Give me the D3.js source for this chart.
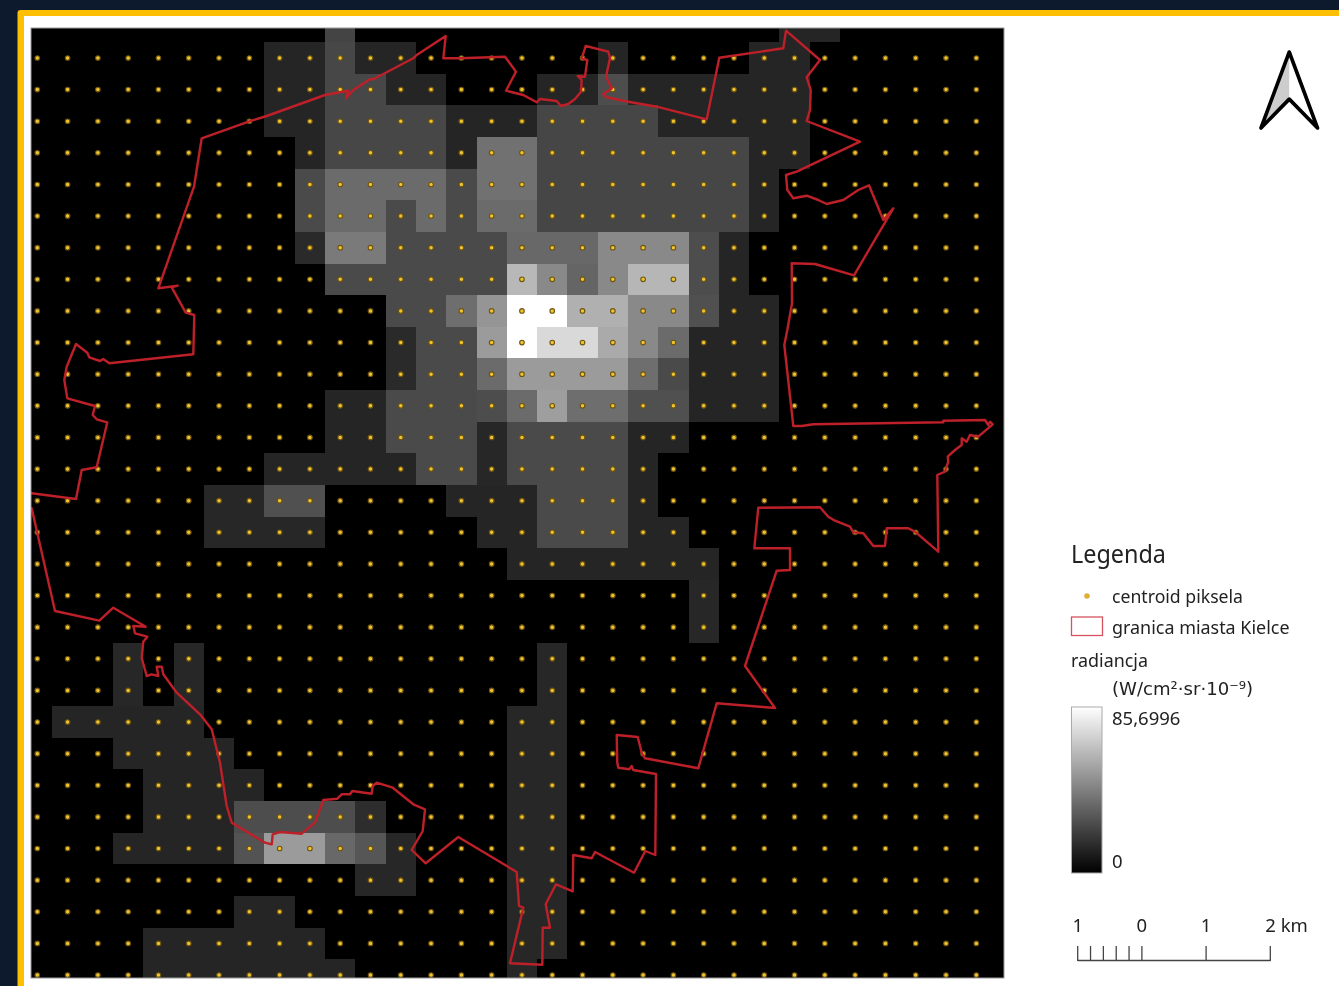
<!DOCTYPE html>
<html>
<head>
<meta charset="utf-8">
<style>
html,body{margin:0;padding:0;background:#0d1a2e;overflow:hidden}
svg{display:block;filter:blur(0.55px)}
text{font-family:"Noto Sans","Open Sans",sans-serif;fill:#222}
</style>
<script src="https://cdn.jsdelivr.net/npm/d3@7"></script>
</head>
<body>
<svg id="c" width="1339" height="986"></svg>
<script>
// Pixel grid indices
const gridCols = d3.range(0, 32);
const gridRows = d3.range(0, 30);
const radianceMax = 85.6996;
// Radiance raster: [row, first column, last column, radiance]
const radianceRuns = [
[-1,10,10,23],[-1,25,26,12.5],
[0,8,9,12.5],[0,10,10,24],[0,11,12,12.5],[0,19,19,12.5],[0,24,25,12.5],
[1,8,9,12.5],[1,10,11,24],[1,12,13,12.5],[1,17,18,12.5],[1,19,19,26],[1,20,25,12.5],
[2,8,9,12.5],[2,10,13,24],[2,14,16,12.5],[2,17,20,23.5],[2,21,25,12.5],
[3,9,9,12.5],[3,10,13,24],[3,14,14,12.5],[3,15,16,38],[3,17,23,23.5],[3,24,25,12.5],
[4,9,9,25],[4,10,13,36],[4,14,14,25],[4,15,16,38],[4,17,23,23.5],[4,24,24,12.5],
[5,9,9,25],[5,10,11,36],[5,12,12,25],[5,13,13,36],[5,14,14,25],[5,15,16,36],[5,17,23,23.5],[5,24,24,12.5],
[6,9,9,14],[6,10,11,41],[6,12,15,25],[6,16,18,35],[6,19,21,46],[6,22,22,26],[6,23,23,12.5],
[7,10,15,25],[7,16,16,62],[7,17,17,46],[7,18,18,34],[7,19,19,46],[7,20,21,61],[7,22,22,26],[7,23,23,12.5],
[8,12,13,25],[8,14,14,37],[8,15,15,50],[8,16,17,85.7],[8,18,19,59],[8,20,21,46],[8,22,22,27],[8,23,24,12.5],
[9,12,12,14],[9,13,14,25],[9,15,15,52],[9,16,16,85.7],[9,17,18,73],[9,19,19,57],[9,20,20,46],[9,21,21,36],[9,22,24,12.5],
[10,12,12,14],[10,13,14,25],[10,15,15,36],[10,16,19,52],[10,20,20,37],[10,21,21,25],[10,22,24,12.5],
[11,10,11,12.5],[11,12,14,25],[11,15,15,26],[11,16,16,36],[11,17,17,53],[11,18,19,37],[11,20,21,27],[11,22,24,12.5],
[12,10,11,12.5],[12,12,14,25],[12,15,15,13],[12,16,19,25],[12,20,21,12.5],
[13,8,12,12.5],[13,13,14,25],[13,15,15,13],[13,16,19,25],[13,20,20,12.5],
[14,6,7,13],[14,8,9,27],[14,14,16,12.5],[14,17,19,25],[14,20,20,12.5],
[15,6,9,13],[15,15,16,12.5],[15,17,19,25],[15,20,21,12.5],
[16,16,22,12.5],[17,22,22,13],[18,22,22,13],
[19,3,3,13],[19,5,5,13],[19,17,17,13],
[20,3,3,13],[20,5,5,13],[20,17,17,13],
[21,1,5,12.5],[21,16,17,13],
[22,3,6,12.5],[22,16,17,13],
[23,4,7,12.5],[23,16,17,13],
[24,4,6,12.5],[24,7,10,26],[24,11,11,15],[24,16,17,13],
[25,3,6,12.5],[25,7,7,28],[25,8,9,52],[25,10,10,35],[25,11,11,29],[25,12,12,13],[25,16,17,13],
[26,11,12,13],[26,16,17,13],
[27,7,8,12.5],[27,16,17,13],
[28,4,9,12.5],[28,16,17,13],
[29,4,10,12.5],[29,16,16,13]
];
// City boundary vertices in map sheet units
const boundary = [
[201.7,138.3],[249.3,121.3],[266.7,116],[325,95],[348.3,90.7],[346,98.3],[353.3,90],[370,79.3],[373.3,79.3],[383.3,74],[413.3,58.3],[416.7,55],[445.7,36],[443.3,58.3],[460,58.3],[505,56.7],[516,71.7],[506,90.7],
[523.3,95],[536.7,102.3],[540,99],[556.7,101],[561,106],[568.3,104],[575,99],[581,91.7],[581.7,80],[577.7,76],[585,76.7],[587.3,60],[581.7,58.3],[585.7,46],[608.3,51.7],[610,58.3],[606,76.7],[611.7,88.3],[603.3,94],[606.7,97.3],[628.3,101.7],[656.7,106.7],[706.7,119.3],[719.3,57.7],[783.3,48.3],[786,30.7],[820,60],[806.7,77.3],[810.7,90],[810,110],[806.7,121],[860,141.7],[796.7,171.7],[786,175],[787.3,190],[793.3,198.3],[806.7,195.7],[818.3,200],[826.7,204],[843.3,200],[858.3,190],[869,185.3],[883.3,220],[893.3,208.3],[854,275.3],[815,264],[791.7,263.3],[792,303.3],[787.3,330],
[784.3,345],[793.3,426],[801.7,426],[813.3,424.3],[943.3,422.3],[943.3,420.7],[985,420],[988.3,425],[990,421.7],[992.7,424.3],[978.3,436.7],[970,435],[966.7,441.7],[961.7,438.3],[961.7,445],[955,450],[947.7,456.7],[948.3,461.7],[945,471.7],[937.3,475],[938.3,551.7],[915,531.7],[908.3,528.3],[886.7,528.3],[885,546],[873.3,546],[863.3,533.3],[853.3,532.3],[850,526.7],[835,520.7],[828.3,516.7],[820,507.3],[758.3,507.7],[754.3,548.3],[790,548.3],[790,570],[776.7,570.7],[748.3,656],
[745,666],[775,708],[716.7,703.3],[698.3,768.3],[645,758.3],[641.7,752.7],[637.7,737],[616.7,735],[617.3,762.7],[618.3,767.7],[629.3,769.3],[631.7,766],[633.3,770],[656,774],[655.3,855],[645.3,851],[634,872.7],[595,852],[591.7,858.3],[573.3,855],[572.7,891.3],[556,884.3],[545.7,904.3],[550,927.7],[542.7,927.7],[542.3,964.7],[510,963.3],[523.3,907.7],[519,906],[516.7,872],
[458.3,837],[425.7,863.3],[411.7,850],[422.7,831],[425,809.3],[413.3,804.3],[392.7,787.7],[376.7,782.7],[372.7,786],[371.7,793.7],[352.3,791],[350,794.3],[341.7,794.3],[337.3,798.7],[323.3,800],[315,822.7],[301.7,833.7],[280,832],[272.7,834.3],[271.7,844.3],[265,842.7],[231.7,822.7],[226.7,806],[220,762.7],[211.7,729.3],[200,714.3],[176.7,692.7],[163.3,674.3],[161.7,666.7],[156.7,666.7],[158.3,676],[151.7,674.3],[146.7,676],[141.7,658],
[143.3,641.7],[147.3,636.7],[135,633.3],[133.3,626],[145.7,626.7],[113.3,607.7],[99.3,620.7],[55,611],[31.7,508.3],[20,505],[20,492],[31.7,493.3],[76,499],[81.7,470],[96.7,467.3],[107.3,422.3],[96.7,419.3],[92.7,415],[95,406],[67.3,398.3],[64.3,380],[66.7,366.7],[76,344],[87.3,352.7],[89.3,357.3],[100,361],[103.3,359],[109.3,363.3],[193.3,354.3],[194.3,315],[185.7,312.7],[171.7,287.3],[177.7,285.7],[158.3,288.3],[194,186.7]
];
const scaleBarMajor = [-1, 0, 1, 2];
const scaleBarMinor = [-0.8, -0.6, -0.4, -0.2];
const scaleBarLabels = ["1", "0", "1", "2 km"];
const legendEntries = ["centroid piksela", "granica miasta Kielce"];
const legendEntryWidths = [131, 177.5];

const svg = d3.select("#c");
const frame = {x0: 31, x1: 1004, y0: 28, y1: 978};
const col = d3.scaleLinear().domain([0, 31]).range([37.3, 976.3]);
const row = d3.scaleLinear().domain([0, 29]).range([58, 975]);
const east = d3.scaleLinear().domain([31, 1004]).range([frame.x0, frame.x1]);
const north = d3.scaleLinear().domain([28, 978]).range([frame.y0, frame.y1]);
const shade = d3.scaleLinear().domain([0, radianceMax]).range(["#000000", "#ffffff"]);

// page frame
svg.append("path").attr("fill", "#fdbf00")
  .attr("d", "M17.5 1000V13q0-3 3-3H1339V1000Z");
svg.append("rect").attr("x", 24).attr("y", 16).attr("width", 1320).attr("height", 980).attr("fill", "#fff");

// map
const defs = svg.append("defs");
defs.append("clipPath").attr("id", "mapClip").append("rect")
  .attr("x", frame.x0).attr("y", frame.y0).attr("width", frame.x1 - frame.x0).attr("height", frame.y1 - frame.y0);
const map = svg.append("g").attr("clip-path", "url(#mapClip)");
map.append("rect").attr("x", frame.x0).attr("y", frame.y0).attr("width", frame.x1 - frame.x0).attr("height", frame.y1 - frame.y0).attr("fill", "#000");

const cells = radianceRuns.flatMap(([r, a, b, v]) => d3.range(a, b + 1).map(c => ({r, c, v})));
map.append("g").attr("shape-rendering", "crispEdges").selectAll("rect").data(cells).join("rect")
  .attr("x", d => col(d.c - 0.5)).attr("y", d => row(d.r - 0.5))
  .attr("width", d => col(d.c + 0.5) - col(d.c - 0.5)).attr("height", d => row(d.r + 0.5) - row(d.r - 0.5))
  .attr("fill", d => shade(d.v));

const centroids = gridRows.flatMap(r => gridCols.map(c => ({r, c})));
map.append("g").selectAll("circle").data(centroids).join("circle")
  .attr("cx", d => col(d.c)).attr("cy", d => row(d.r)).attr("r", 2.3)
  .attr("fill", "#f0c430").attr("stroke", "#6e5410").attr("stroke-width", 1.1);

map.append("path").datum(boundary)
  .attr("d", d3.line().x(d => east(d[0])).y(d => north(d[1])).curve(d3.curveLinearClosed))
  .attr("fill", "none").attr("stroke", "#bd2029").attr("stroke-width", 2.4).attr("stroke-linejoin", "round");

svg.append("rect").attr("x", frame.x0).attr("y", frame.y0).attr("width", frame.x1 - frame.x0).attr("height", frame.y1 - frame.y0)
  .attr("fill", "none").attr("stroke", "#9a9a9a").attr("stroke-width", 1);

// north arrow
const arrowX = d3.scaleLinear().domain([-1, 1]).range([1261, 1317.5]);
const arrowY = d3.scaleLinear().domain([0, 1]).range([52, 128]);
const ap = (x, y) => [arrowX(x), arrowY(y)];
svg.append("path").attr("d", d3.line()([ap(0, 0), ap(0, 0.62), ap(-1, 1)])).attr("fill", "#cdcdcd");
svg.append("path").attr("d", d3.line().curve(d3.curveLinearClosed)([ap(0, 0), ap(1, 1), ap(0, 0.62), ap(-1, 1)]))
  .attr("fill", "none").attr("stroke", "#000").attr("stroke-width", 3.6).attr("stroke-linejoin", "round");

// legend
svg.append("text").attr("x", 1071).attr("y", 563).attr("font-size", 25.5)
  .attr("textLength", 95).attr("lengthAdjust", "spacingAndGlyphs").text("Legenda");
svg.append("circle").attr("cx", 1087).attr("cy", 596).attr("r", 2.8).attr("fill", "#dfae3a");
svg.append("rect").attr("x", 1071.5).attr("y", 617).attr("width", 31).attr("height", 18.5).attr("fill", "#fff").attr("stroke", "#d4535f").attr("stroke-width", 1.3);
svg.selectAll("text.entry").data(legendEntries).join("text").attr("class", "entry")
  .attr("x", 1112).attr("y", (d, i) => 603 + i * 30.5).attr("font-size", 18.5)
  .attr("textLength", (d, i) => legendEntryWidths[i]).attr("lengthAdjust", "spacingAndGlyphs").text(d => d);
svg.append("text").attr("x", 1071).attr("y", 667).attr("font-size", 18.5)
  .attr("textLength", 77).attr("lengthAdjust", "spacingAndGlyphs").text("radiancja");
const unit = svg.append("text").attr("x", 1112).attr("y", 695).attr("font-size", 18.5)
  .attr("font-family", "'DejaVu Sans',sans-serif").attr("textLength", 141).attr("lengthAdjust", "spacingAndGlyphs")
  .style("font-family", "'DejaVu Sans',sans-serif").text("(W/cm²·sr·10⁻⁹)");
const grad = defs.append("linearGradient").attr("id", "ramp").attr("x1", 0).attr("x2", 0).attr("y1", 0).attr("y2", 1);
grad.append("stop").attr("offset", 0).attr("stop-color", shade(radianceMax));
grad.append("stop").attr("offset", 1).attr("stop-color", shade(0));
svg.append("rect").attr("x", 1071.5).attr("y", 707).attr("width", 30.5).attr("height", 166)
  .attr("fill", "url(#ramp)").attr("stroke", "#aaa").attr("stroke-width", 1);
svg.append("text").attr("x", 1112).attr("y", 725).attr("font-size", 18.5).text("85,6996");
svg.append("text").attr("x", 1112).attr("y", 868).attr("font-size", 18.5).text("0");

// scale bar
const km = d3.scaleLinear().domain([-1, 2]).range([1077.7, 1270.3]);
const bar = svg.append("g").attr("stroke", "#444").attr("stroke-width", 1.3).attr("fill", "none");
bar.append("line").attr("x1", km(-1)).attr("x2", km(2)).attr("y1", 960.5).attr("y2", 960.5);
bar.selectAll("line.t").data([...scaleBarMajor, ...scaleBarMinor]).join("line").attr("class", "t")
  .attr("x1", d => km(d)).attr("x2", d => km(d)).attr("y1", 946).attr("y2", 961);
svg.selectAll("text.km").data(scaleBarMajor).join("text").attr("class", "km")
  .attr("x", d => km(d)).attr("y", 932).attr("font-size", 18.5).attr("text-anchor", (d, i) => i === 3 ? "start" : "middle")
  .attr("dx", (d, i) => i === 3 ? -5 : 0).text((d, i) => scaleBarLabels[i]);
</script>
</body>
</html>
